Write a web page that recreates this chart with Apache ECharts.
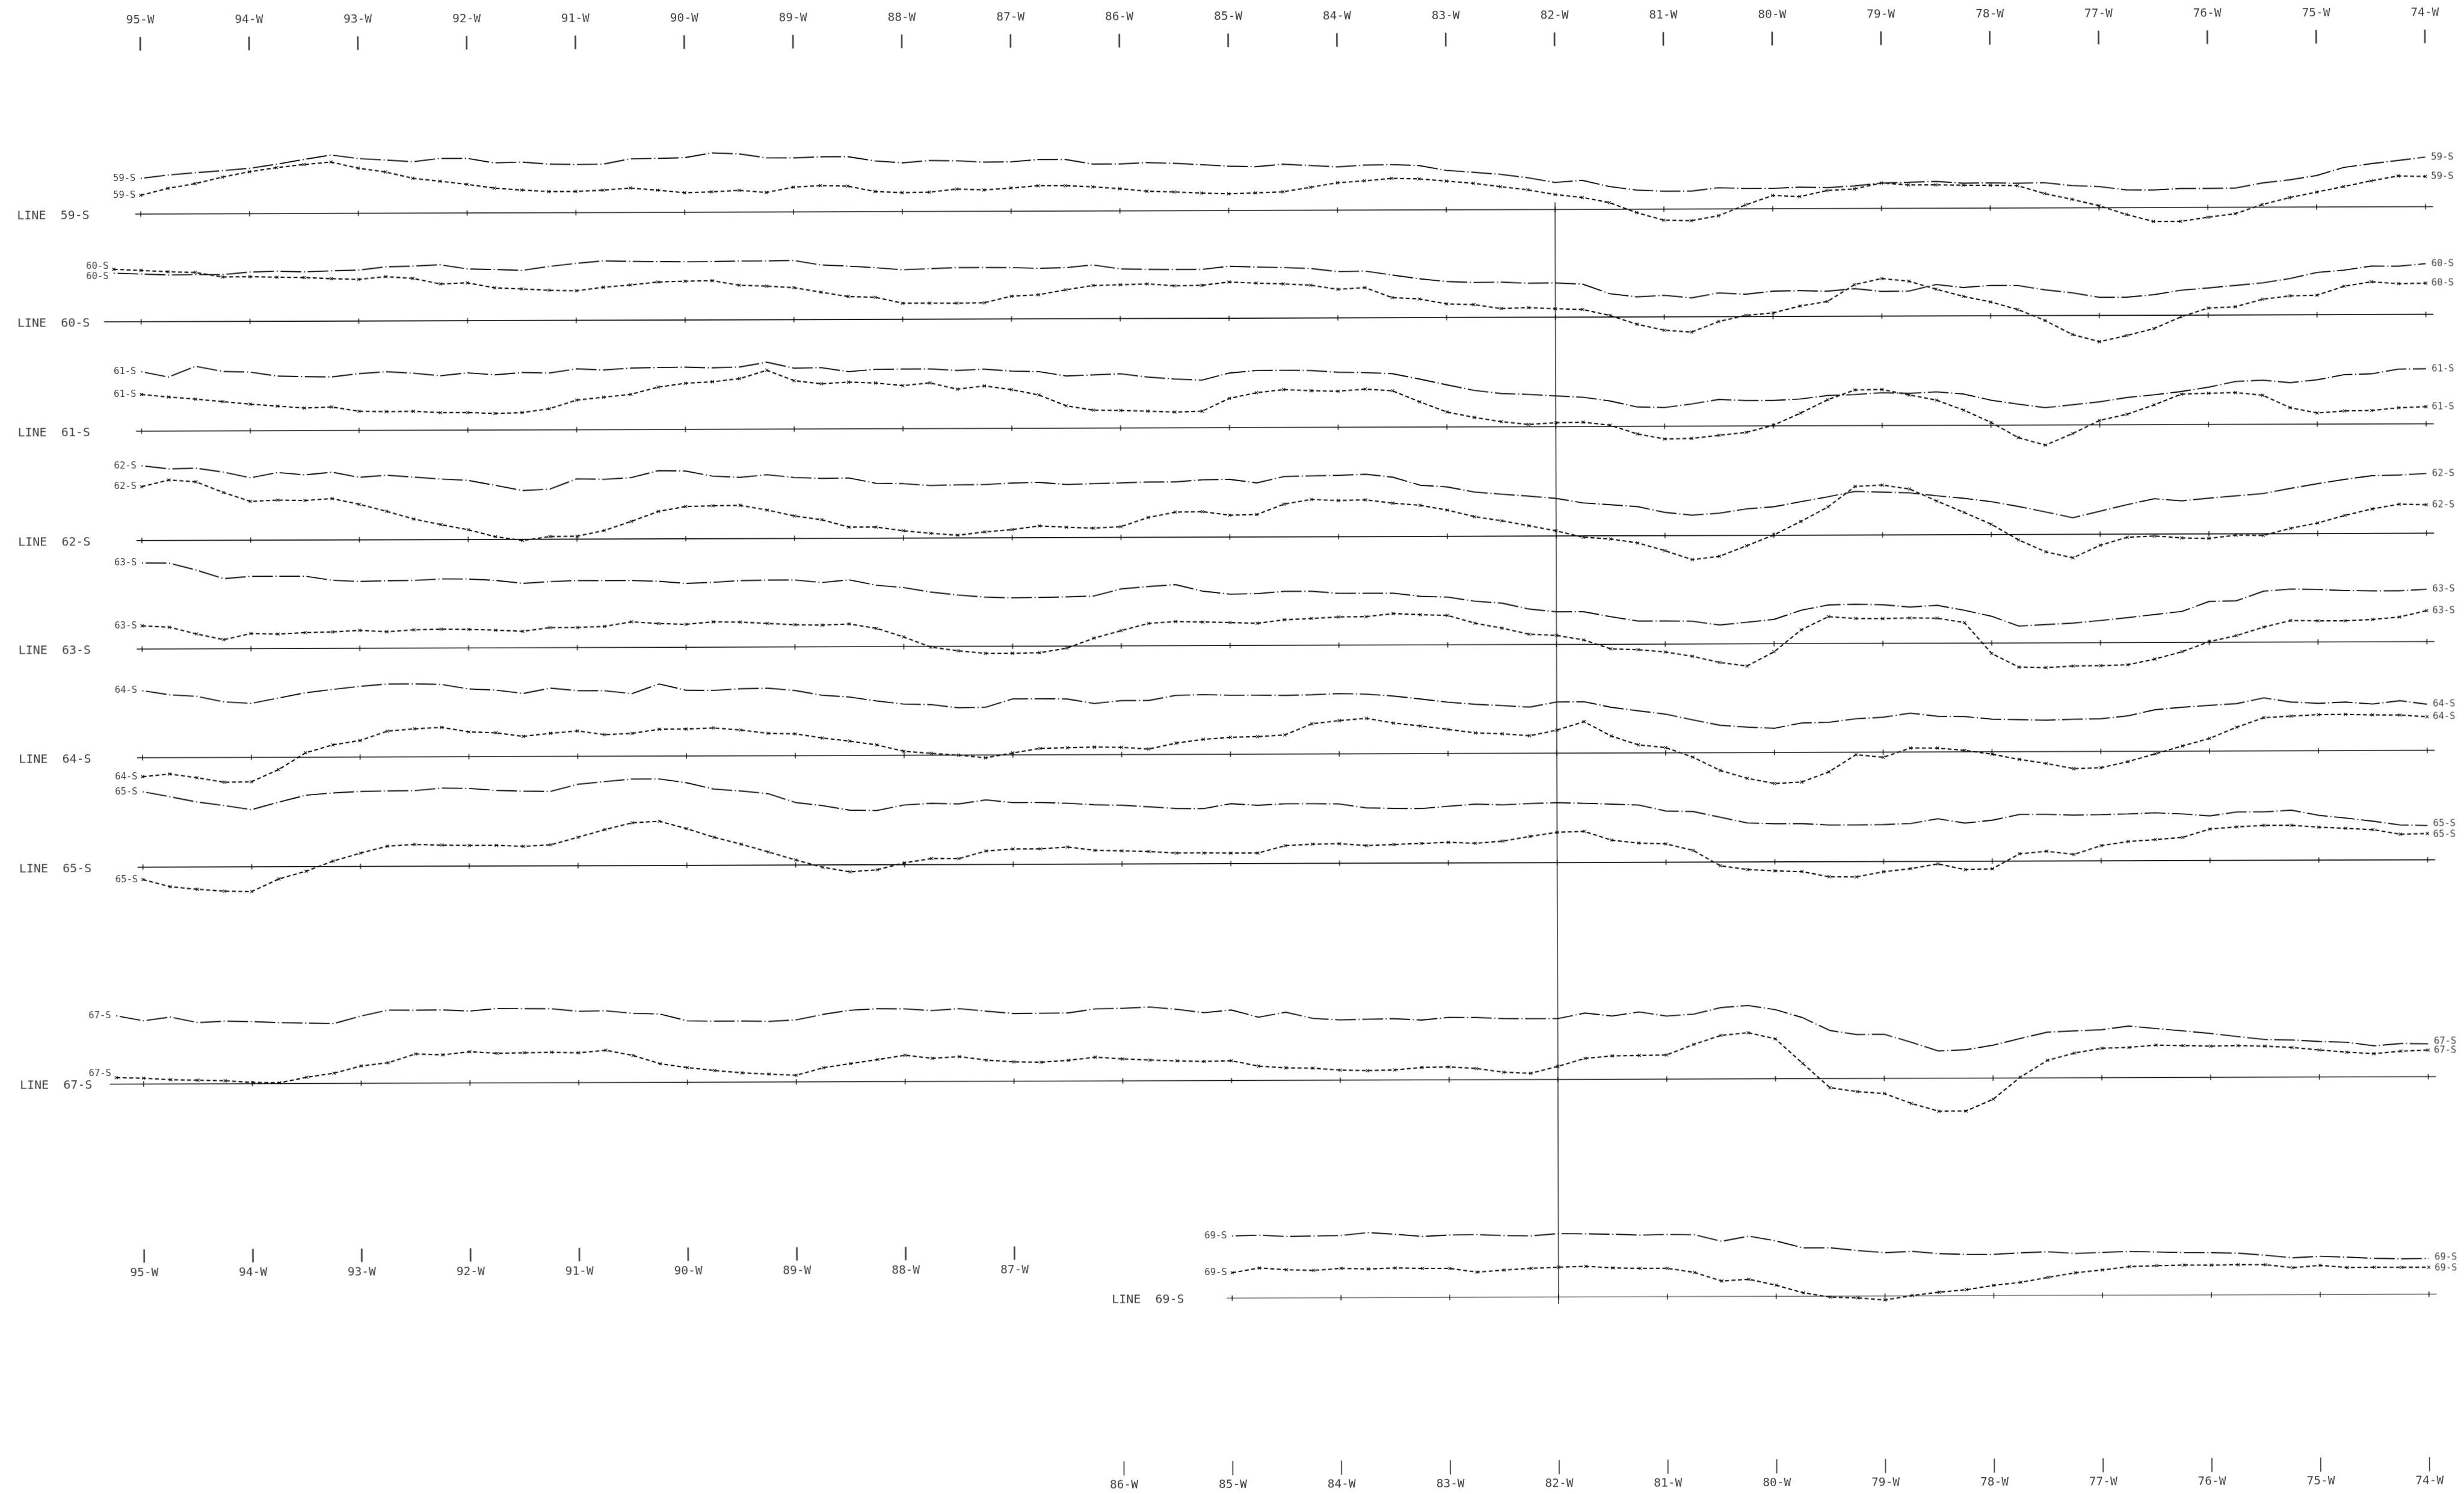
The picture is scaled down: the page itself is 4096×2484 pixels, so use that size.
<!DOCTYPE html>
<html>
<head>
<meta charset="utf-8">
<script src="https://cdn.jsdelivr.net/npm/echarts@6/dist/echarts.min.js"></script>
<style>
html,body{margin:0;padding:0;background:#ffffff;overflow:hidden;}
#chart{width:4096px;height:2484px;transform:rotate(-0.185deg);transform-origin:50% 50%;background:#ffffff;}
</style>
</head>
<body>
<div id="chart"></div>
<script>
// ---------------- DATA ----------------
// sample longitudes (degrees W), every quarter degree
const LON = [95,94.75,94.5,94.25,94,93.75,93.5,93.25,93,92.75,92.5,92.25,92,91.75,91.5,91.25,91,90.75,90.5,90.25,
  90,89.75,89.5,89.25,89,88.75,88.5,88.25,88,87.75,87.5,87.25,87,86.75,86.5,86.25,86,85.75,85.5,85.25,
  85,84.75,84.5,84.25,84,83.75,83.5,83.25,83,82.75,82.5,82.25,82,81.75,81.5,81.25,81,80.75,80.5,80.25,
  80,79.75,79.5,79.25,79,78.75,78.5,78.25,78,77.75,77.5,77.25,77,76.75,76.5,76.25,76,75.75,75.5,75.25,
  75,74.75,74.5,74.25,74];
const LON_WEST_START = [95.25].concat(LON);   // lines 60-S and 67-S start a quarter degree further west
const LON_69 = LON.slice(40);                  // line 69-S runs 85-W to 74-W

const LINE_NAMES = ['59-S','60-S','61-S','62-S','63-S','64-S','65-S','67-S','69-S'];
const TOP_TICKS = [95,94,93,92,91,90,89,88,87,86,85,84,83,82,81,80,79,78,77,76,75,74];
const BOTTOM_LEFT_TICKS = [95,94,93,92,91,90,89,88,87];
const BOTTOM_RIGHT_TICKS = [86,85,84,83,82,81,80,79,78,77,76,75,74];

// profile amplitudes above each line's baseline (dash-dot = A, dotted = B)
const A59 = [177,193,204,214,225,245,268,290,272,264,255,271,271,248,252,241,239,240,266,268,
  271,294,289,269,268,273,273,252,242,253,251,244,245,256,256,233,233,239,235,228,
  220,217,229,222,215,223,225,220,196,186,175,158,134,144,113,95,89,89,105,101,
  101,107,104,112,126,129,133,124,125,123,125,110,105,88,87,94,94,95,120,135,
  156,196,214,230,246];
const B59 = [93,127,150,182,208,228,243,255,224,205,173,158,142,123,113,105,105,111,121,110,
  97,101,108,97,123,130,127,100,94,96,111,106,115,126,126,120,110,97,93,87,
  83,87,92,114,136,145,157,154,143,131,114,98,74,59,33,-17,-55,-58,-34,19,
  66,60,90,97,126,116,116,114,113,111,71,42,10,-34,-69,-69,-49,-32,13,47,
  74,101,129,153,150];
const A60 = [242,237,232,233,233,245,249,245,250,253,269,272,278,257,254,249,268,283,295,292,290,
  289,290,292,292,294,271,265,257,246,251,256,256,255,251,254,267,247,244,243,243,
  258,254,251,246,230,232,212,193,179,174,175,169,170,164,116,100,107,94,118,111,
  126,128,125,137,123,124,156,141,151,150,128,113,90,90,102,124,135,147,159,180,
  210,221,241,240,252];
const B60 = [261,255,248,244,221,222,219,217,211,207,220,211,183,188,163,157,150,147,164,175,189,
  193,195,172,167,159,136,114,110,80,80,79,81,113,120,144,165,168,172,162,164,
  180,174,170,163,142,150,100,93,68,64,44,48,42,38,8,-36,-66,-76,-24,6,
  18,52,74,157,187,173,133,97,69,31,-24,-94,-130,-100,-66,-8,35,41,78,94,
  97,141,163,153,155];
const A61 = [295,268,321,295,291,271,268,266,282,291,283,270,284,274,285,282,302,296,305,307,
  309,305,309,332,302,304,284,295,296,296,288,294,284,281,259,264,269,252,242,236,
  271,283,284,282,273,271,265,238,209,181,165,160,152,145,126,96,93,110,132,126,
  126,133,150,154,163,159,166,155,124,104,86,100,114,135,148,164,185,213,219,206,
  220,245,249,272,273];
const B61 = [182,169,158,145,132,122,112,117,95,93,94,87,87,82,86,105,147,161,175,210,
  229,236,251,292,240,224,232,227,214,227,195,211,192,165,111,89,87,83,78,82,
  145,173,188,182,179,189,180,125,74,47,25,11,19,21,6,-38,-63,-61,-46,-32,
  3,63,129,177,179,151,125,75,14,-62,-100,-43,22,52,98,151,155,158,144,82,
  55,65,67,80,85];
const A62 = [371,355,358,338,309,335,323,336,310,320,310,300,293,268,242,248,299,296,304,338,
  336,310,304,316,302,297,299,272,270,260,263,264,271,274,263,267,270,274,274,284,
  286,268,299,302,304,309,294,254,245,219,208,198,186,163,154,144,115,101,110,131,
  141,166,190,216,212,208,193,180,163,139,111,82,114,146,175,164,177,188,199,224,
  247,268,286,289,296];
const B62 = [267,300,290,237,192,198,196,205,176,141,102,74,48,13,-6,13,14,42,87,136,
  160,163,165,141,111,92,55,55,36,23,13,29,40,58,51,46,53,98,124,126,
  108,111,162,185,179,182,165,154,130,97,76,51,25,-7,-16,-36,-75,-120,-104,-52,
  1,68,140,241,247,227,167,110,51,-27,-87,-117,-55,-16,-10,-20,-23,-7,-9,26,
  52,89,121,144,141];
const A63 = [427,426,391,348,359,359,359,338,332,335,336,343,342,335,320,328,333,332,332,328,
  317,322,330,332,332,319,332,305,293,270,255,244,240,242,244,248,283,294,303,270,
  255,257,268,268,257,257,257,241,237,216,206,176,162,162,137,115,115,113,94,107,
  121,166,192,195,192,180,188,163,133,84,91,98,110,124,139,154,203,206,253,263,
  261,255,253,253,260];
const B63 = [115,108,74,45,75,72,79,82,89,82,91,94,92,88,82,100,100,105,127,118,
  114,126,124,117,110,108,113,91,48,-3,-22,-35,-35,-33,-10,39,76,111,120,117,
  114,110,127,133,140,141,156,150,146,107,82,51,45,22,-23,-27,-39,-61,-92,-110,
  -40,69,134,124,123,126,124,102,-52,-120,-123,-115,-114,-110,-82,-46,4,33,75,107,
  105,105,111,123,154];
const A64 = [333,312,304,276,268,294,320,336,351,362,362,359,336,330,313,339,326,325,310,358,
  326,325,333,335,323,299,290,270,254,251,235,237,278,278,277,254,268,268,293,296,
  293,293,291,294,299,296,286,271,255,244,237,229,254,255,227,209,192,163,136,126,
  120,146,149,166,173,193,177,175,162,159,156,160,162,176,206,218,227,235,263,242,
  235,241,231,247,229];
const B64 = [-94,-81,-100,-123,-121,-61,22,61,82,128,139,146,123,118,100,115,126,107,113,133,
  134,139,128,111,108,87,71,52,20,9,0,-14,10,32,35,38,36,27,56,74,
  84,87,95,150,165,176,152,137,120,102,97,87,114,156,84,40,26,-22,-88,-128,
  -154,-147,-97,-12,-26,20,19,7,-12,-38,-59,-85,-81,-51,-13,26,63,118,165,172,
  179,180,177,176,167];
const A65 = [374,349,322,304,283,320,354,365,372,374,375,387,385,375,371,369,404,417,429,429,
  410,378,368,354,310,294,271,269,296,304,300,320,306,306,302,294,291,283,274,273,
  297,289,296,296,294,274,271,270,281,291,287,293,297,293,289,284,254,251,222,193,
  189,189,182,182,183,188,211,189,203,231,231,227,229,232,237,231,221,240,240,248,
  222,208,192,173,170];
const B65 = [-62,-98,-111,-121,-123,-61,-23,27,66,100,108,104,102,102,97,104,141,179,212,219,
  182,139,104,65,25,-12,-35,-25,9,30,29,66,76,76,85,68,65,61,53,53,
  52,52,88,95,97,87,92,97,102,97,107,130,150,154,110,95,91,58,-19,-38,
  -45,-49,-75,-76,-51,-36,-13,-42,-38,36,48,32,75,95,104,115,156,166,173,173,
  163,157,150,127,130];
const A67 = [339,314,332,304,311,308,302,300,297,334,363,362,363,357,369,368,367,354,356,343,339,
  305,303,303,301,308,335,355,362,361,352,361,348,336,337,338,358,360,366,354,337,
  350,314,338,307,299,302,304,297,310,309,303,302,302,329,314,334,313,322,354,364,
  343,303,239,218,219,179,135,141,163,196,227,233,238,256,243,231,218,202,187,184,
  176,172,154,165,163];
const B67 = [32,29,21,18,15,6,4,31,51,86,102,145,140,155,147,149,151,148,160,134,92,
  73,58,46,39,33,70,90,110,131,115,123,105,96,94,103,118,109,103,98,95,
  98,71,62,60,50,47,50,62,64,56,37,31,65,104,116,118,120,172,216,229,
  198,76,-45,-65,-75,-125,-164,-163,-105,4,87,123,146,150,161,158,155,157,154,147,
  134,123,115,127,132];
const A69 = [308,312,305,307,309,323,314,303,310,311,306,304,315,313,311,306,309,307,274,299,
  275,240,240,226,215,221,209,205,205,212,217,208,213,217,214,211,210,207,196,183,
  190,185,179,176,178];
const B69 = [126,149,140,136,146,142,147,144,144,125,135,143,148,152,144,141,141,120,77,85,
  55,17,-5,-9,-20,2,18,30,51,66,90,112,126,142,146,149,148,150,149,134,
  145,134,135,134,134];

const PROFILE_LON = [LON, LON_WEST_START, LON, LON, LON, LON, LON, LON_WEST_START, LON_69];
const PROFILE_A = [A59, A60, A61, A62, A63, A64, A65, A67, A69];
const PROFILE_B = [B59, B60, B61, B62, B63, B64, B65, B67, B69];

// ---------------- LAYOUT ----------------
const BASE_Y = [134.0, 202.6, 272.2, 341.8, 410.9, 480.1, 549.7, 687.8, 826.3];
const BASE_FROM = [95.05, 95.34, 95.05, 95.05, 95.05, 95.05, 95.05, 95.31, 85.05];
const BASE_TO = 73.93;
const LINE_LABEL_LON = [96.14, 96.14, 96.14, 96.14, 96.14, 96.14, 96.14, 96.14, 86.11];
// pixel nudges for end labels that would collide: [left A, left B, right A, right B]
const LABEL_NUDGE = {
  '60-S': [[0, 6], [0, -5], [0, 0], [0, 0]],
  '65-S': [[0, 0], [0, 0], [0, -3], [0, 2]],
  '67-S': [[0, 0], [0, -7], [0, -4], [0, 1]],
  '69-S': [[0, 0], [0, 0], [0, -2], [0, 2]]
};
const AMP = 0.12826;
const INK = '#0c0c0c';
const MONO = 'DejaVu Sans Mono';
const X_MARK = 'path://M0,0L10,10M10,0L0,10';

const series = [];
const labelScatter = (data, fmt, size, pos, dist) => ({
  type: 'scatter', data: data, symbol: 'circle', symbolSize: 1,
  itemStyle: { color: 'rgba(0,0,0,0)' }, silent: true, z: 6,
  label: { show: true, position: pos, distance: dist, formatter: fmt,
           fontFamily: MONO, fontSize: size, color: INK }
});
const tickScatter = (data, w, h) => ({
  type: 'scatter', data: data, symbol: 'rect', symbolSize: [w, h],
  itemStyle: { color: INK }, silent: true, z: 3
});

LINE_NAMES.forEach((nm, k) => {
  const b = BASE_Y[k];
  const lons = PROFILE_LON[k];
  const nudge = LABEL_NUDGE[nm] || [[0, 0], [0, 0], [0, 0], [0, 0]];
  // baseline
  series.push({ type: 'line', data: [[BASE_FROM[k], b], [BASE_TO, b]], symbol: 'none', silent: true, z: 2,
    lineStyle: { color: k === 8 ? '#6a6a6a' : INK, width: k === 8 ? 1.4 : 1.7 } });
  // degree crosses on the baseline
  series.push(tickScatter(TOP_TICKS.filter(t => t <= BASE_FROM[k]).map(t => [t, b]), 1.8, 9));
  // profiles
  const aPts = lons.map((x, i) => [x, b - PROFILE_A[k][i] * AMP]);
  const bPts = lons.map((x, i) => [x, b - PROFILE_B[k][i] * AMP]);
  series.push({ type: 'line', data: aPts, symbol: 'none', z: 4, silent: true,
    lineStyle: { color: INK, width: 1.9, type: [1.8, 4.5, 34.4, 4.5], cap: 'butt' } });
  series.push({ type: 'line', data: bPts, symbol: X_MARK, symbolSize: 5, showAllSymbol: true, z: 4, silent: true,
    itemStyle: { color: 'rgba(0,0,0,0)', borderColor: INK, borderWidth: 1.1 },
    lineStyle: { color: INK, width: 2.1, type: [6.5, 4.2], cap: 'butt' } });
  // profile names at both ends
  const item = (pt, n) => ({ value: pt, label: { offset: n } });
  series.push(labelScatter([item(aPts[0], nudge[0]), item(bPts[0], nudge[1])], nm, 15.5, 'left', 8));
  series.push(labelScatter([item(aPts[aPts.length - 1], nudge[2]), item(bPts[bPts.length - 1], nudge[3])], nm, 15.5, 'right', 9));
  // line title
  series.push(labelScatter([[LINE_LABEL_LON[k], b + 1.0]], 'LINE  ' + nm, 20, 'right', 0));
});

// longitude scales: top, bottom-left, bottom-right
const lonFmt = p => p.value[0] + '-W';
series.push(tickScatter(TOP_TICKS.map(t => [t, 25.65]), 2.6, 22.7));
series.push(labelScatter(TOP_TICKS.map(t => [t, 10.75]), lonFmt, 19.5, 'inside', 0));
series.push(tickScatter(BOTTOM_LEFT_TICKS.map(t => [t, 797.25]), 2.6, 22.2));
series.push(labelScatter(BOTTOM_LEFT_TICKS.map(t => [t, 808.0]), lonFmt, 19.5, 'inside', 0));
series.push(tickScatter(BOTTOM_RIGHT_TICKS.map(t => [t, 934.5]), 1.8, 23.5));
series.push(labelScatter(BOTTOM_RIGHT_TICKS.map(t => [t, 945.3]), lonFmt, 19.5, 'inside', 0));

// reference meridian at 82-W
series.push({ type: 'line', data: [[82, 129.5], [82, 830.7]], symbol: 'none', silent: true, z: 2,
  lineStyle: { color: INK, width: 1.3 } });

const chart = echarts.init(document.getElementById('chart'), null, { renderer: 'canvas' });
chart.setOption({
  animation: false,
  backgroundColor: '#ffffff',
  grid: { left: 0, right: 0, top: 0, bottom: 0, containLabel: false },
  xAxis: { type: 'value', min: 73.6616, max: 96.3099, inverse: true, show: false },
  yAxis: { type: 'value', min: 0, max: 951, inverse: true, show: false },
  series: series
});
</script>
</body>
</html>
